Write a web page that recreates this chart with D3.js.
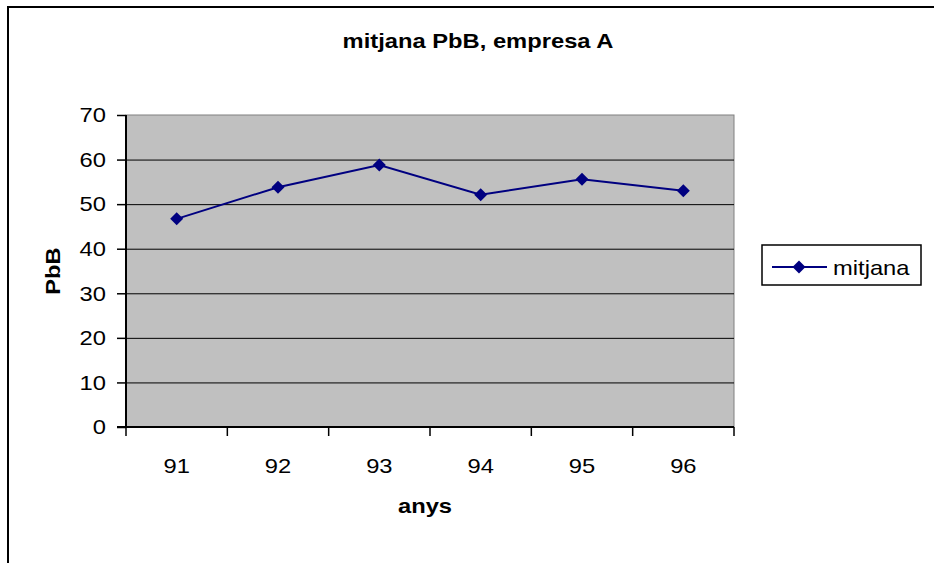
<!DOCTYPE html>
<html>
<head>
<meta charset="utf-8">
<script src="https://cdn.jsdelivr.net/npm/d3@7"></script>
<style>
	body { margin: 0; background: #fff; }
	svg { display: block; font-family: "Liberation Sans", Arial, sans-serif; }
</style>
</head>
<body>
<div id="div_id_main"></div>
<script>

// data
let g_vYears = ["91", "92", "93", "94", "95", "96"];
let g_vMitjana = [46.7, 53.8, 58.8, 52.1, 55.6, 53.0];
let g_vTicksY = [0, 10, 20, 30, 40, 50, 60, 70];

let TITLE = "mitjana PbB, empresa A";
let TITLE_X = "anys";
let TITLE_Y = "PbB";
let SERIES = "mitjana";

const W = 934, H = 563;
const PLOT_L = 126, PLOT_R = 734, PLOT_T = 115, PLOT_B = 427;
const NAVY = "#000080";
const FONT = 21;
const STRETCH = 1.13;

let svgMain = d3.select("#div_id_main")
				.append("svg")
					.attr("width", W)
					.attr("height", H);

// outer chart border (runs off the right and bottom of the picture)
svgMain.append("rect")
			.attr("x", 8).attr("y", 7)
			.attr("width", W + 20).attr("height", H + 20)
			.attr("fill", "#fff")
			.attr("stroke", "#000")
			.attr("stroke-width", 2);

let fScale_X = d3.scaleBand()
					.domain(g_vYears)
					.range([PLOT_L, PLOT_R]);

let fScale_Y = d3.scaleLinear()
					.domain([0, 70])
					.range([PLOT_B, PLOT_T]);

// plot area
svgMain.append("rect")
			.attr("x", PLOT_L).attr("y", PLOT_T)
			.attr("width", PLOT_R - PLOT_L).attr("height", PLOT_B - PLOT_T)
			.attr("fill", "#C0C0C0")
			.attr("stroke", "#808080")
			.attr("stroke-width", 1);

// gridlines
svgMain.append("g")
		.selectAll("line")
		.data(g_vTicksY.filter(function(v) { return v > 0 && v < 70; }))
		.enter()
			.append("line")
				.attr("x1", PLOT_L).attr("x2", PLOT_R)
				.attr("y1", function(v) { return fScale_Y(v) + 0.5; })
				.attr("y2", function(v) { return fScale_Y(v) + 0.5; })
				.attr("stroke", "#000")
				.attr("stroke-width", 1);

// y axis
let gY = svgMain.append("g")
				.attr("transform", "translate(" + PLOT_L + ",0)")
				.call(d3.axisLeft(fScale_Y).tickValues(g_vTicksY).tickSize(9).tickPadding(11));
gY.select(".domain").attr("stroke", "#000").attr("stroke-width", 2).attr("d", "M0," + PLOT_T + "V" + PLOT_B);
gY.selectAll(".tick line").attr("stroke", "#000").attr("stroke-width", 1.5);
gY.selectAll(".tick text")
	.attr("class", "st")
	.attr("font-family", "Liberation Sans, Arial, sans-serif")
	.attr("font-size", FONT)
	.attr("fill", "#000");

// x axis: labels in the middle of each category, ticks on the boundaries
let gX = svgMain.append("g")
				.attr("transform", "translate(0," + PLOT_B + ")")
				.call(d3.axisBottom(fScale_X).tickSize(0).tickPadding(31));
gX.select(".domain").remove();
gX.selectAll(".tick text")
	.attr("class", "st")
	.attr("font-family", "Liberation Sans, Arial, sans-serif")
	.attr("font-size", FONT)
	.attr("fill", "#000");

svgMain.append("line")
		.attr("x1", PLOT_L - 9).attr("x2", PLOT_R)
		.attr("y1", PLOT_B).attr("y2", PLOT_B)
		.attr("stroke", "#000").attr("stroke-width", 2);

let vBounds = g_vYears.map(function(d) { return fScale_X(d); }).concat([fScale_X.range()[1]]);
svgMain.append("g")
		.selectAll("line")
		.data(vBounds)
		.enter()
			.append("line")
				.attr("x1", function(x) { return x; })
				.attr("x2", function(x) { return x; })
				.attr("y1", PLOT_B).attr("y2", PLOT_B + 9)
				.attr("stroke", "#000").attr("stroke-width", 1.5);

// series
let fCX = function(d, i) { return fScale_X(g_vYears[i]) + fScale_X.bandwidth() / 2; };

svgMain.append("path")
		.datum(g_vMitjana)
		.attr("d", d3.line()
						.x(fCX)
						.y(function(v) { return fScale_Y(v); }))
		.attr("fill", "none")
		.attr("stroke", NAVY)
		.attr("stroke-width", 2);

let diamond = "M0,-6.5L6.5,0L0,6.5L-6.5,0Z";

svgMain.append("g")
		.selectAll("path")
		.data(g_vMitjana)
		.enter()
			.append("path")
				.attr("d", diamond)
				.attr("transform", function(v, i) { return "translate(" + fCX(v, i) + "," + fScale_Y(v) + ")"; })
				.attr("fill", NAVY);

// titles
svgMain.append("text")
		.attr("class", "st")
		.attr("x", 478).attr("y", 48)
		.attr("text-anchor", "middle")
		.attr("font-size", FONT)
		.attr("font-weight", "bold")
		.text(TITLE);

svgMain.append("text")
		.attr("class", "st")
		.attr("x", 425).attr("y", 513)
		.attr("text-anchor", "middle")
		.attr("font-size", FONT)
		.attr("font-weight", "bold")
		.text(TITLE_X);

svgMain.append("text")
		.attr("class", "st")
		.attr("transform", "translate(60," + ((PLOT_T + PLOT_B) / 2) + ") rotate(-90)")
		.attr("text-anchor", "middle")
		.attr("font-size", FONT)
		.attr("font-weight", "bold")
		.text(TITLE_Y);

// legend
let gLegend = svgMain.append("g").attr("transform", "translate(762,245)");
gLegend.append("rect")
		.attr("x", 0).attr("y", 0)
		.attr("width", 159).attr("height", 40)
		.attr("fill", "#fff")
		.attr("stroke", "#000")
		.attr("stroke-width", 1.5);
gLegend.append("line")
		.attr("x1", 10).attr("x2", 65)
		.attr("y1", 22).attr("y2", 22)
		.attr("stroke", NAVY).attr("stroke-width", 2);
gLegend.append("path")
		.attr("d", diamond)
		.attr("transform", "translate(37,22)")
		.attr("fill", NAVY);
gLegend.append("text")
		.attr("class", "st")
		.attr("x", 71).attr("y", 30)
		.attr("font-size", FONT)
		.text(SERIES);

// the reference is a bit wider than tall: widen the glyphs to match
svgMain.selectAll("text.st").each(function() {
	let w = this.getComputedTextLength();
	d3.select(this)
		.attr("textLength", w * STRETCH)
		.attr("lengthAdjust", "spacingAndGlyphs");
});

</script>
</body>
</html>
